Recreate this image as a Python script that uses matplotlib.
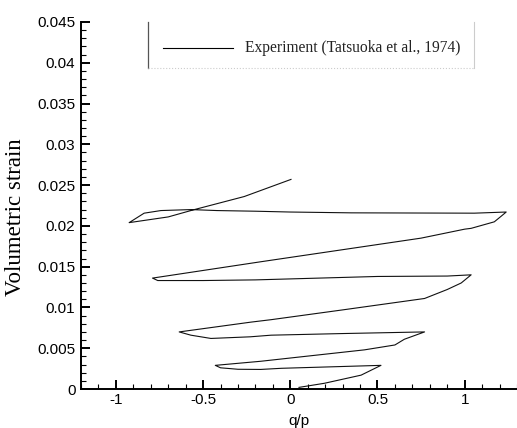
import matplotlib
matplotlib.use("Agg")
import matplotlib.pyplot as plt
from matplotlib.ticker import MultipleLocator, FuncFormatter

# q/p vs volumetric strain (Tatsuoka et al., 1974)
q_p = [0.05, 0.195, 0.406, 0.52,
       -0.05, -0.17, -0.30, -0.40, -0.43,
       -0.17, 0.0, 0.425, 0.60, 0.654, 0.77,
       0.30, -0.11, -0.23, -0.455, -0.57, -0.637,
       -0.226, -0.11, 0.30, 0.77, 0.90, 0.98, 1.037,
       0.90, 0.50, -0.20, -0.50, -0.70, -0.76, -0.79,
       -0.17, 0.75, 1.0, 1.037, 1.17, 1.21, 1.238,
       1.055, 0.35, 0.0, -0.20, -0.42, -0.57, -0.742, -0.838, -0.924,
       -0.70, -0.55, -0.264, 0.004]
vol_strain = [0.0002, 0.0007, 0.0017, 0.0029,
              0.00254, 0.0024, 0.00242, 0.0026, 0.0029,
              0.0034, 0.0038, 0.0048, 0.0054, 0.0061, 0.0070,
              0.0068, 0.0066, 0.0064, 0.0062, 0.0066, 0.0070,
              0.0082, 0.0085, 0.0097, 0.0111, 0.0122, 0.0130, 0.0140,
              0.01385, 0.0138, 0.01338, 0.0133, 0.0133, 0.0133, 0.0136,
              0.0156, 0.0185, 0.0196, 0.0197, 0.0205, 0.0212, 0.0217,
              0.02156, 0.0216, 0.0217, 0.0218, 0.02188, 0.0220, 0.02188, 0.02156, 0.0204,
              0.0211, 0.0220, 0.0236, 0.0257]

legend_label = "Experiment (Tatsuoka et al., 1974)"

fig = plt.figure(figsize=(5.17, 4.28), dpi=100)
ax = fig.add_axes([0.1567, 0.0911, 0.8433, 0.8575])

ax.plot(q_p, vol_strain, color="#111111", lw=0.8)

ax.set_xlim(-1.2, 1.3)
ax.set_ylim(0, 0.045)

ax.spines["top"].set_visible(False)
ax.spines["right"].set_visible(False)
for s in ("left", "bottom"):
    ax.spines[s].set_linewidth(1.4)

ax.xaxis.set_major_locator(MultipleLocator(0.5))
ax.xaxis.set_minor_locator(MultipleLocator(0.1))
ax.yaxis.set_major_locator(MultipleLocator(0.005))
ax.yaxis.set_minor_locator(MultipleLocator(0.001))
fmt = FuncFormatter(lambda v, p: "%g" % round(v, 6))
ax.xaxis.set_major_formatter(fmt)
ax.yaxis.set_major_formatter(fmt)
ax.tick_params(which="major", direction="in", length=6.5, width=1.4,
               labelsize=11, pad=4)
ax.tick_params(which="minor", direction="in", length=3.5, width=0.8)
ax.tick_params(axis="x", pad=3)
for lab in ax.get_xticklabels() + ax.get_yticklabels():
    lab.set_family("Liberation Sans")

ax.set_xlabel("q/p", family="Liberation Sans", fontsize=11, labelpad=5)
ax.set_ylabel("Volumetric strain", family="Liberation Serif", fontsize=16.5)
ax.yaxis.label.set_verticalalignment("center")
ax.yaxis.set_label_coords(-0.151, 0.469)

# Tecplot-style legend box
ax.plot([0.1537, 0.1537], [0.8747, 1.0], transform=ax.transAxes,
        color="#555555", lw=0.9, clip_on=False)
ax.plot([0.1537, 0.901], [0.8747, 0.8747], transform=ax.transAxes,
        color="#cccccc", lw=0.8, ls=":", clip_on=False)
ax.plot([0.901, 0.901], [0.8747, 1.0], transform=ax.transAxes,
        color="#cccccc", lw=0.8, clip_on=False)
ax.plot([0.188, 0.349], [0.929, 0.929], transform=ax.transAxes,
        color="black", lw=0.8, clip_on=False)
ax.text(0.376, 0.929, legend_label, transform=ax.transAxes,
        family="Liberation Serif", fontsize=11.2, va="center", ha="left",
        color="#222222")

fig.savefig("out.png", dpi=100)
